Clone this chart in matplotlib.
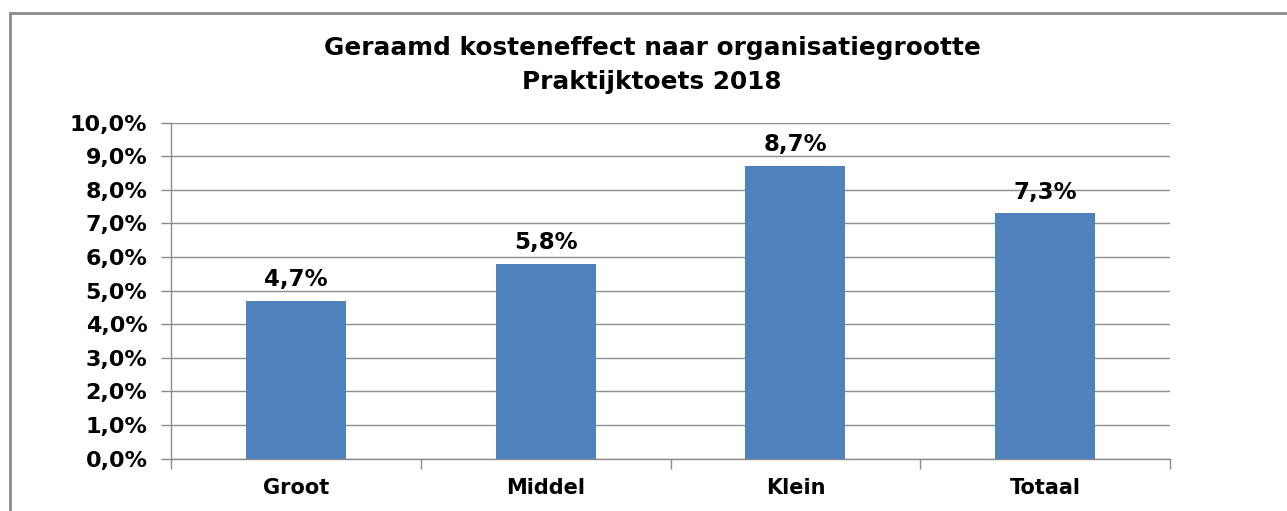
import matplotlib.pyplot as plt
from matplotlib.patches import Rectangle
from matplotlib.ticker import FuncFormatter, MultipleLocator

categories = ['Groot', 'Middel', 'Klein', 'Totaal']
values = [4.7, 5.8, 8.7, 7.3]
title_lines = ['Geraamd kosteneffect naar organisatiegrootte', 'Praktijktoets 2018']

BAR_COLOR = '#4F81BD'
GRID_COLOR = '#8C8C8C'


def pct(v, _pos=None):
    return '{:.1f}%'.format(v).replace('.', ',')


fig = plt.figure(figsize=(12.87, 5.11), dpi=100)
plt.rcParams['font.family'] = ['DejaVu Sans']

# chart frame, runs off the right and bottom edges
fig.patches.append(Rectangle((10 / 1287, -0.1), 1.2, 1.1 - 13 / 511,
                             transform=fig.transFigure, fill=False,
                             edgecolor='#8A8A8A', linewidth=2))

ax = fig.add_axes([171 / 1287, 1 - 458.7 / 511, (1170 - 171) / 1287, (458.7 - 122.5) / 511])
x = range(len(categories))
ax.bar(x, values, width=0.4, color=BAR_COLOR, zorder=3)
for xi, v in zip(x, values):
    ax.annotate(pct(v), xy=(xi, v), xytext=(0, 7), textcoords='offset points',
                ha='center', va='bottom', fontsize=16.5, fontweight='bold')

ax.set_xlim(-0.5, len(categories) - 0.5)
ax.set_ylim(0, 10)
ax.yaxis.set_major_locator(MultipleLocator(1))
ax.yaxis.set_major_formatter(FuncFormatter(pct))
ax.grid(axis='y', color=GRID_COLOR, linewidth=1.0, zorder=0)
ax.set_xticks(x)
ax.set_xticklabels(categories, fontsize=15, fontweight='bold')
ax.set_xticks([i + 0.5 for i in range(-1, len(categories))], minor=True)
ax.tick_params(axis='x', which='major', length=0, pad=14)
ax.tick_params(axis='x', which='minor', length=7, color=GRID_COLOR, width=1.0)
ax.tick_params(axis='y', length=7, color=GRID_COLOR, width=1.0, labelsize=16, pad=10)
for label in ax.get_yticklabels():
    label.set_fontweight('bold')
for side in ('top', 'right'):
    ax.spines[side].set_visible(False)
for side in ('left', 'bottom'):
    ax.spines[side].set_color(GRID_COLOR)
    ax.spines[side].set_linewidth(1.0)

fig.text(652 / 1287, 1 - 48 / 511, title_lines[0], ha='center', va='center',
         fontsize=17.8, fontweight='bold')
fig.text(652 / 1287, 1 - 82 / 511, title_lines[1], ha='center', va='center',
         fontsize=17.8, fontweight='bold')

plt.savefig('out.png', dpi=100)
